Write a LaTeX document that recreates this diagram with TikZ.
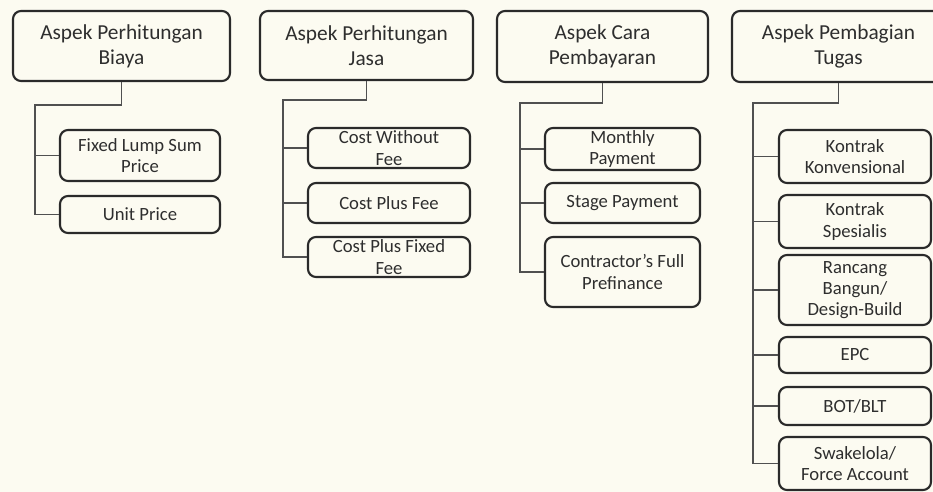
\documentclass[tikz,border=0pt]{standalone}
\usepackage{fontspec}
\setmainfont{Carlito}
\definecolor{cream}{HTML}{FCFBF1}
\definecolor{edge}{HTML}{2A2A2A}
\definecolor{ink}{HTML}{2E2E2E}
\definecolor{wire}{HTML}{505050}
\tikzset{
  headbox/.style={draw=edge, line width=1.6pt, rounded corners=6pt, fill=cream, align=center, inner sep=0pt, text=ink,
    font=\fontsize{16}{19}\selectfont},
  itembox/.style={draw=edge, line width=1.6pt, rounded corners=6pt, fill=cream, align=center, inner sep=0pt, text=ink,
    font=\fontsize{14}{16}\selectfont},
  wirestyle/.style={draw=wire, line width=1pt}
}
\newcommand{\bx}[6]{\node[#1, minimum width={#4*0.75pt}, minimum height={#5*0.75pt}] (#2) at (#3) {#6};}
\begin{document}
\begin{tikzpicture}[x=0.75pt,y=-0.75pt]
\useasboundingbox (0,0) rectangle (933,492);
\clip (0,0) rectangle (933,492);
\fill[cream] (0,0) rectangle (933,492);

% Column 1
\bx{headbox}{A1}{121.5,46}{217}{70}{Aspek Perhitungan\\Biaya}
\bx{itembox}{B11}{140,155.5}{160}{51}{Fixed Lump Sum\\Price}
\bx{itembox}{B12}{140,214.5}{160}{37}{Unit Price}
\coordinate (j1) at (35,105);
\draw[wirestyle] (A1.south) -- (A1.south |- j1) -- (j1) -- (j1 |- B12.west) -- (B12.west);
\draw[wirestyle] (j1 |- B11.west) -- (B11.west);

% Column 2
\bx{headbox}{A2}{366.5,45.5}{213}{69}{Aspek Perhitungan\\Jasa}
\bx{itembox}{B21}{389,148}{162}{40}{Cost Without\\Fee}
\bx{itembox}{B22}{389,203}{162}{40}{Cost Plus Fee}
\bx{itembox}{B23}{389,257}{162}{40}{Cost Plus Fixed\\Fee}
\coordinate (j2) at (283,100);
\draw[wirestyle] (A2.south) -- (A2.south |- j2) -- (j2) -- (j2 |- B23.west) -- (B23.west);
\draw[wirestyle] (j2 |- B21.west) -- (B21.west);
\draw[wirestyle] (j2 |- B22.west) -- (B22.west);

% Column 3
\bx{headbox}{A3}{602.5,46.5}{211}{71}{Aspek Cara\\Pembayaran}
\bx{itembox}{B31}{622.5,149}{155}{42}{Monthly\\Payment}
\bx{itembox}{B32}{622.5,203}{155}{40}{Stage Payment}
\bx{itembox}{B33}{622.5,272}{155}{70}{Contractor’s Full\\Prefinance}
\coordinate (j3) at (520,103);
\draw[wirestyle] (A3.south) -- (A3.south |- j3) -- (j3) -- (j3 |- B33.west) -- (B33.west);
\draw[wirestyle] (j3 |- B31.west) -- (B31.west);
\draw[wirestyle] (j3 |- B32.west) -- (B32.west);

% Column 4
\bx{headbox}{A4}{838.5,46.5}{213}{71}{Aspek Pembagian\\Tugas}
\bx{itembox}{B41}{855,156.5}{152}{53}{Kontrak\\Konvensional}
\bx{itembox}{B42}{855,221.5}{152}{53}{Kontrak\\Spesialis}
\bx{itembox}{B43}{855,290}{152}{70}{Rancang\\Bangun/\\Design-Build}
\bx{itembox}{B44}{855,355}{152}{36}{EPC}
\bx{itembox}{B45}{855,406}{152}{38}{BOT/BLT}
\bx{itembox}{B46}{855,463.5}{152}{53}{Swakelola/\\Force Account}
\coordinate (j4) at (753,103);
\draw[wirestyle] (A4.south) -- (A4.south |- j4) -- (j4) -- (j4 |- B46.west) -- (B46.west);
\foreach \k in {B41,B42,B43,B44,B45} {
  \draw[wirestyle] (j4 |- \k.west) -- (\k.west);
}
\end{tikzpicture}
\end{document}
